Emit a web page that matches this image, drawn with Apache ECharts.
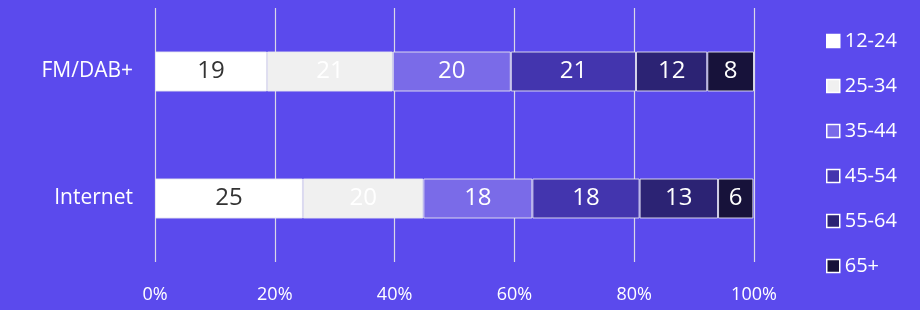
<!DOCTYPE html>
<html>
<head>
<meta charset="UTF-8">
<title></title>
<style type="text/css">
	* { margin: 0; padding: 0; }
	body { background: #5b4aed; }
	#chart { width: 920px; height: 310px; }
</style>
</head>
<body>
<div id="chart"></div>
<script src="https://cdn.jsdelivr.net/npm/echarts@6/dist/echarts.min.js"></script>
<script type="text/javascript">
	// 数据
	var categories = ['FM/DAB+', 'Internet'];
	var ageGroups = ['12-24', '25-34', '35-44', '45-54', '55-64', '65+'];
	var share1224 = [18.7, 24.7];
	var share2534 = [21.0, 20.1];
	var share3544 = [19.7, 18.2];
	var share4554 = [20.9, 17.9];
	var share5564 = [11.9, 13.1];
	var share65 = [7.8, 5.9];
	var xTicks = [0, 20, 40, 60, 80, 100];

	var allShares = [share1224, share2534, share3544, share4554, share5564, share65];
	var colors = ['#ffffff', '#f0f0f0', '#7a6be8', '#4335ae', '#2c2374', '#17123a'];
	var labelColors = ['#333333', '#ffffff', '#ffffff', '#ffffff', '#ffffff', '#ffffff'];
	var font = '"Open Sans", "Noto Sans", sans-serif';

	var myChart = echarts.init(document.getElementById('chart'));

	var series = [];
	for (var i = 0; i < ageGroups.length; i++) {
		series.push({
			name: ageGroups[i],
			type: 'bar',
			stack: 'total',
			barWidth: 40,
			itemStyle: {
				color: colors[i],
				borderColor: 'rgba(230,230,240,0.9)',
				borderWidth: 1
			},
			label: {
				show: true,
				position: 'inside',
				color: labelColors[i],
				fontSize: 24,
				fontFamily: font,
				formatter: function (p) { return Math.round(p.value); }
			},
			data: allShares[i]
		});
	}

	myChart.setOption({
		backgroundColor: '#5b4aed',
		animation: false,
		grid: { left: 155, right: 166, top: 8, bottom: 48 },
		legend: {
			orient: 'vertical',
			left: 821,
			top: 26,
			icon: 'rect',
			itemWidth: 13,
			itemHeight: 13,
			itemGap: 25,
			data: ageGroups,
			itemStyle: { borderColor: '#ffffff', borderWidth: 1.5 },
			textStyle: { color: '#ffffff', fontSize: 20, fontFamily: font }
		},
		xAxis: {
			type: 'value',
			min: 0,
			max: 100,
			interval: 20,
			axisLine: { show: false },
			axisTick: { show: false },
			splitLine: { show: true, lineStyle: { color: '#d8d8e8', width: 1.2 } },
			axisLabel: {
				color: '#ffffff',
				fontSize: 18,
				fontFamily: font,
				margin: 24,
				formatter: function (v) { return xTicks.indexOf(v) >= 0 ? v + '%' : ''; }
			}
		},
		yAxis: {
			type: 'category',
			inverse: true,
			data: categories,
			axisLine: { show: false },
			axisTick: { show: false },
			axisLabel: { color: '#ffffff', fontSize: 21, fontFamily: font, margin: 22 }
		},
		series: series
	});
</script>
</body>
</html>
